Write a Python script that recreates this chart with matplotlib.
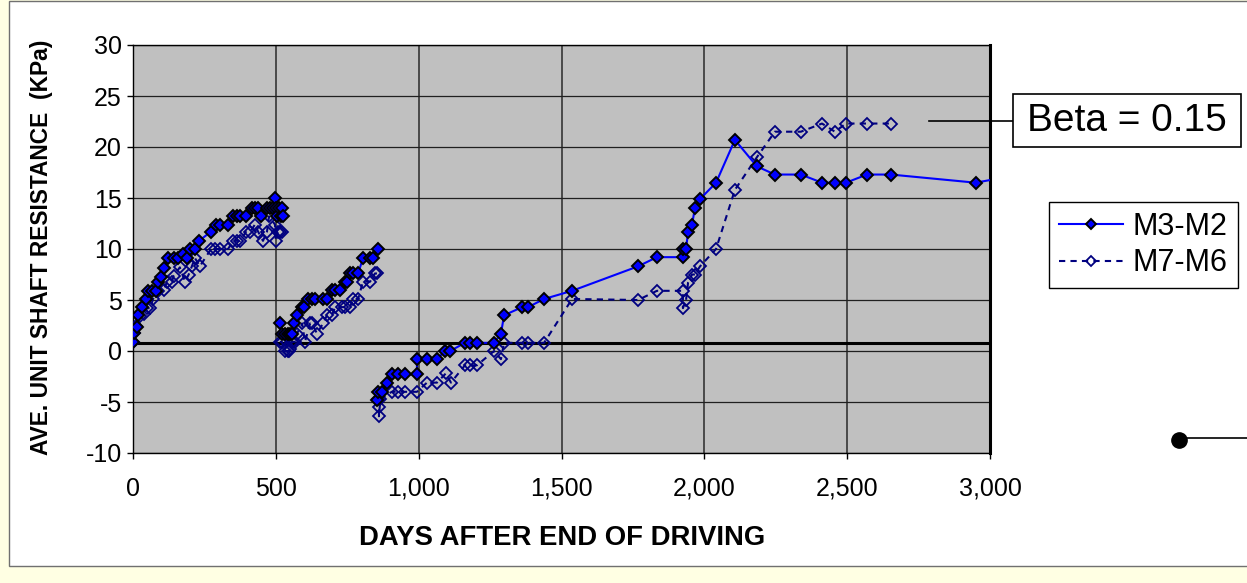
import numpy as np
import matplotlib
matplotlib.use("Agg")
import matplotlib.pyplot as plt
from matplotlib.patches import Rectangle
from matplotlib.lines import Line2D

plt.rcParams['font.family'] = ['Liberation Sans', 'DejaVu Sans']
plt.rcParams['axes.unicode_minus'] = False

nan = np.nan

# M3-M2 (filled diamonds, solid line); nan separates the three measurement runs
m3_days = [0, 3, 14, 17, 30, 45, 52, 66, 80, 88, 98, 110, 122, 143, 158, 175, 189, 200, 217, 231,
           273, 290, 304, 333, 350, 364, 375, 396, 417, 427, 438, 448, 469, 480, 490, 497, 500,
           503, 510, 517, 521, 524,
           nan,
           514, 521, 532, 542, 550, 556, 563, 574, 592, 599, 613, 627, 637, 665, 679, 697, 707,
           725, 742, 749, 760, 770, 788, 805, 830, 840, 858,
           nan,
           855, 858, 871, 889, 906, 928, 952, 994, 994, 1029, 1064, 1092, 1110, 1162, 1180, 1204,
           1264, 1288, 1299, 1362, 1383, 1439, 1537, 1768, 1834, 1925, 1925, 1936, 1943, 1957,
           1967, 1985, 2041, 2107, 2184, 2247, 2338, 2412, 2457, 2496, 2569, 2653, 2950, 3200]
m3_vals = [0.9, 1.8, 2.4, 3.5, 4.3, 5.1, 5.9, 5.9, 5.9, 6.8, 7.3, 8.1, 9.1, 9.1, 9.1, 9.5, 9.1, 10.0, 10.0, 10.8,
           11.7, 12.4, 12.4, 12.4, 13.2, 13.2, 13.2, 13.2, 14.0, 14.0, 14.0, 13.2, 14.0, 14.0, 14.0, 15.0, 14.0,
           13.2, 14.0, 13.2, 14.0, 13.2,
           nan,
           2.7, 1.7, 1.7, 1.7, 1.7, 1.7, 2.7, 3.5, 4.3, 4.3, 5.1, 5.1, 5.1, 5.1, 5.1, 6.0, 6.0,
           6.0, 6.8, 6.8, 7.6, 7.6, 7.6, 9.1, 9.1, 9.1, 10.0,
           nan,
           -4.8, -4.0, -4.0, -3.1, -2.3, -2.3, -2.3, -2.3, -0.8, -0.8, -0.8, 0.0, 0.0, 0.8, 0.8, 0.8,
           0.8, 1.7, 3.5, 4.3, 4.3, 5.1, 5.9, 8.3, 9.2, 9.2, 10.0, 10.0, 11.7, 12.4,
           14.0, 14.9, 16.5, 20.7, 18.1, 17.3, 17.3, 16.5, 16.5, 16.5, 17.3, 17.3, 16.5, 17.8]

# M7-M6 (hollow diamonds, dashed line)
m7_days = [0, 3, 10, 24, 38, 49, 60, 70, 88, 108, 119, 136, 143, 164, 182, 195, 206, 217, 234,
           273, 287, 304, 333, 350, 364, 375, 396, 410, 427, 438, 455, 469, 476, 497, 500, 507,
           514, 521,
           nan,
           514, 521, 532, 542, 546, 550, 556, 560, 567, 574, 592, 602, 620, 627, 644, 665, 679,
           697, 707, 731, 742, 760, 770, 788, 805, 830, 847, 854,
           nan,
           858, 861, 861, 866, 906, 928, 952, 994, 1029, 1064, 1095, 1113, 1162, 1180, 1204,
           1264, 1288, 1299, 1362, 1383, 1439, 1537, 1768, 1834, 1925, 1925, 1936, 1943, 1957,
           1967, 1985, 2041, 2107, 2184, 2247, 2338, 2412, 2457, 2496, 2569, 2653]
m7_vals = [0.9, 1.8, 2.5, 3.4, 3.6, 4.2, 4.2, 5.1, 5.9, 6.0, 6.8, 6.8, 7.4, 8.2, 6.8, 7.5, 8.3, 9.1, 8.3,
           10.0, 10.0, 10.0, 10.0, 10.8, 10.8, 10.8, 11.7, 11.7, 12.4, 11.7, 10.8, 11.7, 13.2, 12.4, 10.8, 11.7,
           11.7, 11.7,
           nan,
           0.9, 0.9, 0.0, 0.0, 0.0, 0.2, 0.9, 0.9, 0.9, 1.7, 2.7, 0.9, 2.7, 2.7, 1.7, 2.7, 3.5,
           3.5, 4.3, 4.3, 4.3, 4.3, 5.1, 5.1, 6.8, 6.8, 7.6, 7.6,
           nan,
           -4.7, -5.5, -6.4, -4.7, -4.0, -4.0, -4.0, -4.0, -3.1, -3.1, -2.2, -3.1, -1.4, -1.4, -1.4,
           0.0, -0.8, 0.8, 0.8, 0.8, 0.8, 5.1, 5.0, 5.9, 5.9, 4.2, 5.0, 6.7, 7.5,
           7.5, 8.3, 10.0, 15.8, 19.0, 21.5, 21.5, 22.3, 21.5, 22.3, 22.3, 22.3]

# Beta = 0.15 reference level
beta_level = 0.75
beta_end_day = 2993

x_ticks = [0, 500, 1000, 1500, 2000, 2500, 3000]
x_tick_labels = ['0', '500', '1,000', '1,500', '2,000', '2,500', '3,000']
y_ticks = [-10, -5, 0, 5, 10, 15, 20, 25, 30]

W, H = 1247, 583
fig = plt.figure(figsize=(W / 100, H / 100), dpi=100)
fig.patch.set_facecolor('#FFFFE3')
fig.patches.append(Rectangle((9 / W, 1 - 566 / H), 1.0, 566 / H - 1 / H, transform=fig.transFigure,
                             facecolor='white', edgecolor='#707070', linewidth=1, zorder=-5))

ax = fig.add_axes([133 / W, 1 - 453 / H, (990 - 133) / W, (453 - 45) / H])
ax.set_facecolor('#C0C0C0')

ax.plot(m3_days, m3_vals, color='#0000FF', lw=1.5, marker='D', ms=6,
        mfc='#0000FF', mec='black', mew=1.4, label='M3-M2', zorder=4)
ax.plot(m7_days, m7_vals, color='#000080', lw=1.5, ls=(0, (3, 2.5)), marker='D', ms=6,
        mfc='none', mec='#000080', mew=1.3, label='M7-M6', zorder=3)
ax.plot([0, beta_end_day], [beta_level, beta_level], color='black', lw=2.2, zorder=2)

ax.set_xlim(0, 3000)
ax.set_ylim(-10, 30)
ax.set_xticks(x_ticks)
ax.set_xticklabels(x_tick_labels)
ax.set_yticks(y_ticks)
ax.tick_params(axis='x', direction='out', length=4, pad=13, labelsize=18, width=1)
ax.tick_params(axis='y', direction='out', length=4, pad=4, labelsize=18, width=1)
ax.grid(axis='y', color='#202020', lw=0.9)
ax.grid(axis='x', color='#404040', lw=1.3)
ax.set_axisbelow(True)
for s in ['left', 'bottom', 'top']:
    ax.spines[s].set_color('black')
    ax.spines[s].set_linewidth(1)
ax.spines['right'].set_linewidth(2.2)

ax.set_xlabel('DAYS AFTER END OF DRIVING', fontsize=19.8, fontweight='bold')
ax.xaxis.set_label_coords(0.5006, -0.177)
ax.set_ylabel('AVE. UNIT SHAFT RESISTANCE  (KPa)', fontsize=16.4, fontweight='bold')
ax.yaxis.set_label_coords(-0.093, 0.505)

leg = ax.legend(loc='upper left', bbox_to_anchor=(1049 / W, 1 - 202 / H), bbox_transform=fig.transFigure,
                borderaxespad=0, fontsize=22, frameon=True, fancybox=False, framealpha=1,
                edgecolor='black', handlelength=2.1, handletextpad=0.3, borderpad=0.33,
                labelspacing=0.2, markerscale=0.8)
leg.get_frame().set_linewidth(1)

# Beta = 0.15 callout
fig.add_artist(Line2D([929 / W, 1013 / W], [1 - 121 / H, 1 - 121 / H], color='black', lw=1.2,
                      transform=fig.transFigure))
fig.patches.append(Rectangle((1013 / W, 1 - 147 / H), 228 / W, 53 / H, transform=fig.transFigure,
                             facecolor='white', edgecolor='black', linewidth=1.2, zorder=5))
fig.text(1127 / W, 1 - 121 / H, 'Beta = 0.15', fontsize=28, ha='center', va='center', zorder=6)

# dot marker at lower right
fig.add_artist(Line2D([1179 / W, 1.0], [1 - 438 / H, 1 - 438 / H], color='black', lw=1.2,
                      transform=fig.transFigure))
fig.add_artist(Line2D([1179 / W], [1 - 440 / H], marker='o', ms=11, color='black',
                      transform=fig.transFigure))

fig.savefig('out.png', dpi=100, facecolor=fig.get_facecolor())
